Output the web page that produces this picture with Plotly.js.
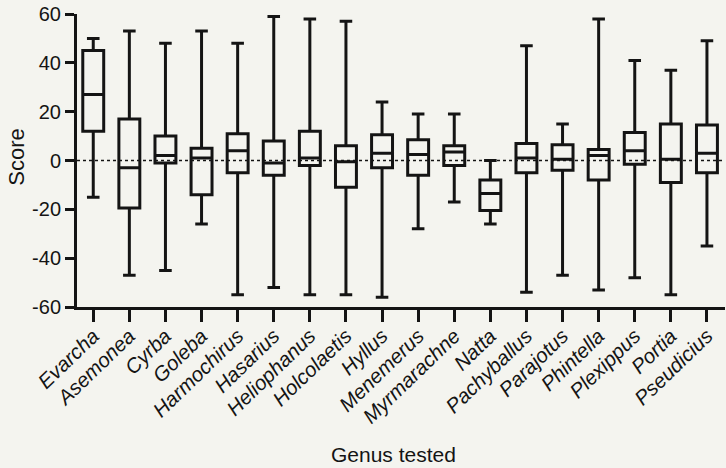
<!DOCTYPE html>
<html><head><meta charset="utf-8">
<script src="https://cdn.plot.ly/plotly-3.0.1.min.js"></script>
<style>html,body{margin:0;padding:0;background:#f4f4ef}</style></head>
<body><div id="chart" style="width:726px;height:468px"></div>
<script>
const genera = ['Evarcha','Asemonea','Cyrba','Goleba','Harmochirus','Hasarius','Heliophanus','Holcolaetis','Hyllus','Menemerus','Myrmarachne','Natta','Pachyballus','Parajotus','Phintella','Plexippus','Portia','Pseudicius'];
const maxV = [50,53,48,53,48,59,58,57,24,19,19,0,47,15,58,41,37,49];
const q3V  = [45,17,10,5,11,8,12,6,10.5,8.5,6,-8,7,6.5,4.5,11.5,15,14.5];
const medV = [27,-3,2,1,4,-1,1,-0.5,3,2.5,3.5,-13.5,1,0.5,2,4,0.5,3];
const q1V  = [12,-19.5,-1,-14,-5,-6,-2,-11,-3,-6,-2,-20.5,-5,-4,-8,-1.5,-9,-5];
const minV = [-15,-47,-45,-26,-55,-52,-55,-55,-56,-28,-17,-26,-54,-47,-53,-48,-55,-35];
const yTicks = [-60,-40,-20,0,20,40,60];
const yTickText = ['-60','-40','-20','0','20','40','60'];

const ink = '#141414';
const fontFam = '"Liberation Sans", Arial, Helvetica, sans-serif';

const trace = {
  type: 'box',
  x: genera,
  q1: q1V, median: medV, q3: q3V,
  lowerfence: minV, upperfence: maxV,
  boxpoints: false,
  fillcolor: 'rgba(0,0,0,0)',
  line: {color: ink, width: 3},
  whiskerwidth: 0.6,
  width: 0.58,
  hoverinfo: 'skip'
};

const layout = {
  width: 726, height: 468,
  paper_bgcolor: '#f4f4ef', plot_bgcolor: '#f4f4ef',
  margin: {l: 77, r: 1, t: 14, b: 161},
  showlegend: false,
  font: {family: fontFam, color: ink},
  xaxis: {
    type: 'category', range: [-0.45, 17.5],
    showline: true, linecolor: ink, linewidth: 3,
    ticks: 'outside', ticklen: 12, tickwidth: 3, tickcolor: ink,
    tickangle: -44, tickfont: {size: 20.5, style: 'italic', color: ink},
    ticklabelstandoff: -6,
    showgrid: false, zeroline: false, fixedrange: true
  },
  yaxis: {
    range: [-60, 60], tickvals: yTicks, ticktext: yTickText,
    showline: true, linecolor: ink, linewidth: 3,
    ticks: 'outside', ticklen: 9, tickwidth: 3, tickcolor: ink,
    tickfont: {size: 20, color: ink},
    showgrid: false, zeroline: false, fixedrange: true
  },
  shapes: [{type: 'line', xref: 'paper', yref: 'y', x0: 0, x1: 1, y0: 0, y1: 0,
            line: {color: ink, width: 1.6, dash: 'dot'}, layer: 'below'}],
  annotations: [
    {text: 'Genus tested', xref: 'paper', yref: 'paper', x: 0.488, y: -0.505,
     xanchor: 'center', yanchor: 'middle', showarrow: false, font: {size: 21, color: ink}},
    {text: 'Score', xref: 'paper', yref: 'paper', x: -0.094, y: 0.51, textangle: -90,
     xanchor: 'center', yanchor: 'middle', showarrow: false, font: {size: 22, color: ink}}
  ]
};

Plotly.newPlot('chart', [trace], layout, {staticPlot: true, displayModeBar: false});
</script></body></html>
